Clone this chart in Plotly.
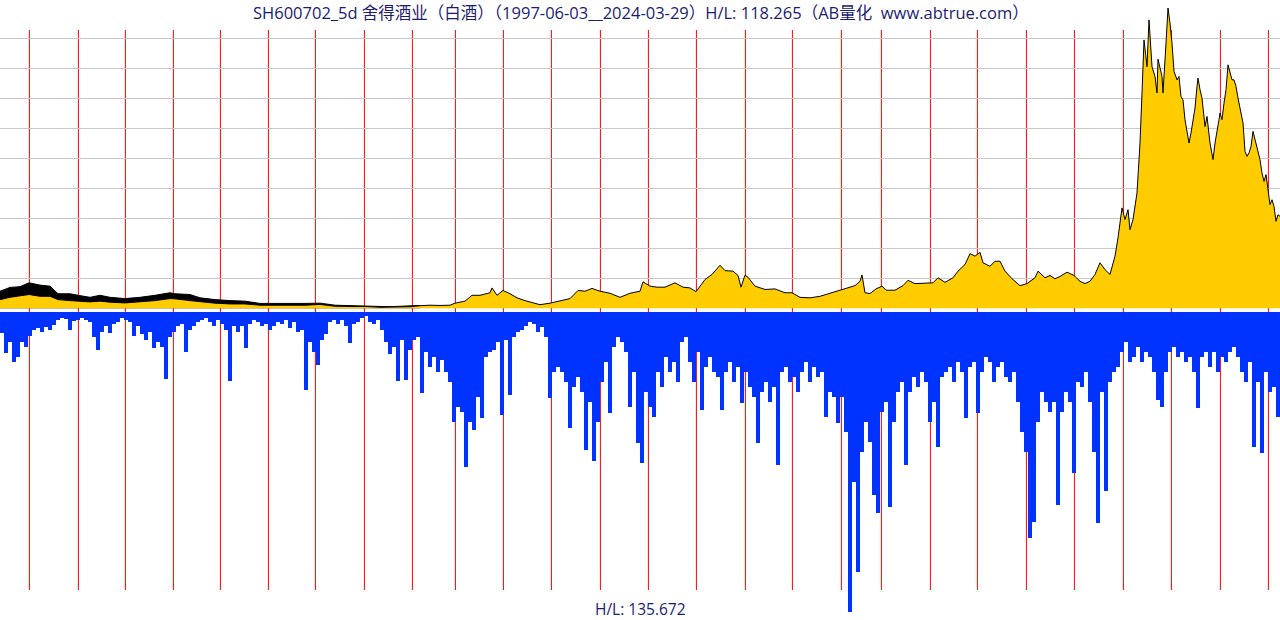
import plotly.graph_objects as go

# ---------------- data ----------------
TITLE = "SH600702_5d 舍得酒业（白酒）（1997-06-03__2024-03-29）H/L: 118.265（AB量化  www.abtrue.com）"
PRICE_HL = 118.265
VOL_LABEL = "H/L: 135.672"

# trading-day index of each year start (1998 ... 2024)
year_start_day = [147, 392, 627, 867, 1102, 1342, 1577, 1822, 2062, 2277, 2517, 2757, 3002,
                  3242, 3482, 3727, 3962, 4207, 4407, 4652, 4887, 5132, 5372, 5617, 5857,
                  6102, 6342]

# early high band (black)
band_day = [0, 50, 100, 145, 200, 250, 290, 350, 390, 450, 500, 550, 625, 700, 775, 850, 875,
            950, 1000, 1075, 1150, 1225, 1300, 1375, 1450, 1525, 1600, 1675, 1750, 1825, 1900,
            1975, 2050, 2100]
band_high = [6.8, 8.3, 8.6, 10.1, 9.2, 8.8, 5.8, 5.8, 5.2, 4.4, 5.2, 4.4, 3.9, 4.4, 5.2, 6.2, 5.8,
             5.5, 4.2, 3.5, 3.1, 2.9, 2.0, 2.1, 2.0, 2.0, 2.1, 1.3, 1.1, 1.1, 0.8, 0.8, 1.1, 1.2]

# close price (yellow area)
price_day = [0, 50, 145, 200, 250, 290, 350, 390, 450, 500, 550, 625, 700, 775, 850, 875, 950,
             1000, 1075, 1150, 1225, 1300, 1375, 1450, 1525, 1600, 1675, 1750, 1825, 1900, 1975,
             2050, 2100, 2150, 2200, 2250, 2275, 2325, 2360, 2400, 2450, 2460, 2485, 2515, 2550,
             2585, 2625, 2675, 2700, 2750, 2800, 2850, 2890, 2925, 2960, 3000, 3050, 3100, 3150,
             3200, 3215, 3250, 3285, 3325, 3375, 3415, 3450, 3480, 3525, 3560, 3600, 3625, 3665,
             3690, 3705, 3725, 3740, 3775, 3825, 3875, 3925, 3960, 4000, 4050, 4100, 4150, 4200,
             4240, 4275, 4300, 4310, 4325, 4350, 4380, 4410, 4430, 4475, 4515, 4540, 4575, 4625,
             4665, 4690, 4725, 4765, 4790, 4825, 4850, 4875, 4900, 4915, 4950, 4975, 5000, 5025,
             5060, 5100, 5135, 5175, 5190, 5225, 5250, 5275, 5300, 5335, 5370, 5400, 5425, 5450,
             5475, 5500, 5525, 5550, 5575, 5590, 5610, 5625, 5640, 5650, 5665, 5685, 5700, 5710,
             5715, 5720, 5735, 5745, 5760, 5775, 5785, 5790, 5810, 5815, 5830, 5840, 5850, 5860,
             5870, 5885, 5895, 5905, 5915, 5925, 5935, 5945, 5955, 5965, 5975, 5985, 5990, 6000,
             6010, 6025, 6035, 6050, 6060, 6065, 6075, 6085, 6095, 6100, 6110, 6120, 6130, 6140,
             6150, 6160, 6170, 6180, 6190, 6200, 6205, 6215, 6225, 6235, 6245, 6255, 6265, 6275,
             6285, 6300, 6310, 6320, 6330, 6340, 6350, 6360, 6370, 6380, 6390, 6400]
price = [3.5, 4.4, 5.5, 4.8, 4.8, 3.5, 3.1, 2.9, 2.6, 2.9, 2.5, 2.2, 2.6, 3.1, 3.9, 3.8, 3.1,
         2.6, 2.1, 1.8, 1.8, 1.3, 1.3, 1.3, 1.3, 1.6, 0.9, 0.8, 0.8, 0.5, 0.5,
         0.7, 1.1, 1.3, 1.2, 1.3, 2.1, 2.9, 5.2, 5.2, 6.2, 8.1, 5.2, 7.1, 5.8,
         4.2, 3.1, 2.2, 1.5, 2.1, 3.1, 3.9, 7.1, 6.8, 7.9, 6.8, 6.0, 4.4, 6.0,
         6.8, 10.5, 8.8, 8.4, 8.4, 10.1, 8.4, 8.1, 6.6, 11.4, 13.4, 17.0, 14.9, 14.7,
         13.0, 8.4, 13.1, 12.3, 8.8, 7.5, 7.7, 6.2, 6.2, 4.4, 4.2, 4.8, 6.0, 7.1,
         8.1, 9.0, 10.7, 13.2, 6.2, 5.9, 7.7, 8.8, 7.2, 7.2, 9.0, 11.1, 9.8, 10.1,
         10.1, 12.1, 10.3, 12.1, 14.7, 17.3, 21.6, 20.6, 22.1, 18.0, 16.6, 18.6, 18.6, 14.7,
         11.7, 9.0, 9.8, 12.1, 14.7, 12.1, 13.0, 11.7, 12.6, 14.3, 13.0, 10.7, 9.8, 10.7,
         13.4, 18.0, 15.3, 13.4, 20.6, 27.8, 39.6, 35.0, 38.9, 31.0, 35.0, 45.5, 65.1, 84.8,
         94.6, 105.7, 95.2, 113.6, 95.2, 91.3, 84.8, 98.1, 91.3, 84.8, 104.4, 118.265, 112.3, 104.4,
         93.3, 90.0, 91.3, 83.4, 82.1, 74.3, 69.7, 65.1, 69.1, 74.3, 78.9, 87.4, 90.7, 86.1,
         82.8, 71.6, 75.6, 65.1, 61.2, 58.6, 65.1, 69.1, 74.3, 76.9, 74.3, 80.8, 86.1, 95.9,
         93.3, 90.0, 90.0, 87.4, 82.8, 78.2, 76.2, 73.0, 61.8, 59.9, 61.2, 63.8, 69.7, 66.4,
         63.8, 58.6, 53.3, 50.0, 52.7, 46.8, 40.9, 42.8, 40.2, 34.3, 36.9, 36.3]

# weekly (20-day bin) lower-panel values, drawn downward
vol = [21, 41, 30, 50, 45, 30, 35, 24, 18, 16,
       20, 15, 18, 13, 8, 6, 7, 18, 9, 8,
       6, 8, 10, 25, 38, 20, 14, 21, 12, 10,
       6, 8, 10, 24, 14, 22, 28, 20, 36, 30,
       35, 67, 25, 20, 14, 12, 40, 18, 14, 10,
       8, 6, 10, 14, 8, 12, 18, 69, 14, 20,
       14, 36, 12, 8, 10, 14, 12, 18, 14, 10,
       12, 8, 16, 10, 20, 18, 78, 30, 40, 53,
       28, 22, 10, 8, 12, 8, 14, 31, 12, 10,
       6, 4, 10, 12, 8, 18, 30, 42, 35, 69,
       28, 68, 38, 28, 25, 81, 40, 55, 45, 60,
       48, 60, 70, 110, 95, 100, 155, 110, 118, 85,
       106, 45, 40, 38, 30, 103, 28, 83, 25, 20,
       18, 14, 10, 12, 20, 15, 25, 86, 60, 55,
       60, 70, 116, 75, 65, 80, 138, 90, 149, 110,
       70, 50, 101, 35, 25, 30, 40, 95, 60, 131,
       151, 80, 95, 105, 60, 75, 45, 60, 50, 70,
       30, 25, 50, 70, 40, 98, 55, 45, 60, 65,
       98, 60, 50, 70, 55, 91, 60, 75, 85, 131,
       80, 70, 90, 75, 153, 60, 55, 70, 65, 80,
       60, 50, 70, 55, 65, 60, 105, 80, 85, 111,
       85, 120, 300, 170, 260, 140, 110, 130, 183, 201,
       100, 90, 195, 110, 80, 70, 153, 80, 65, 75,
       60, 70, 110, 90, 135, 65, 60, 55, 70, 50,
       60, 106, 55, 50, 101, 60, 45, 50, 70, 55,
       50, 65, 70, 60, 90, 120, 140, 226, 210, 110,
       80, 90, 100, 90, 193, 100, 80, 90, 161, 70,
       75, 60, 90, 140, 211, 80, 179, 70, 60, 55,
       40, 30, 50, 45, 35, 50, 40, 45, 60, 88,
       95, 60, 40, 35, 45, 40, 50, 45, 60, 96,
       45, 40, 55, 40, 60, 45, 50, 40, 35, 45,
       60, 70, 50, 135, 70, 141, 60, 80, 75, 105]
BIN = 20
vol_day = [i * BIN + BIN / 2 for i in range(len(vol))]
TOTAL_DAYS = len(vol) * BIN

# ---------------- figure ----------------
W, H = 1280, 620
YELLOW = "#FFCC00"
BLUE = "#0033FF"
NAVY = "#1c1c72"
FONT = "Open Sans, Noto Sans CJK SC"

def py(p):  # pixel row -> paper fraction
    return 1 - p / H

fig = go.Figure()
fig.add_trace(go.Scatter(x=band_day, y=band_high, mode="lines", fill="tozeroy",
                         fillcolor="black", line=dict(color="black", width=1),
                         hoverinfo="skip"))
fig.add_trace(go.Scatter(x=price_day, y=price, mode="lines", fill="tozeroy",
                         fillcolor=YELLOW, line=dict(color="black", width=1),
                         hoverinfo="skip"))
fig.add_trace(go.Bar(x=vol_day, y=vol, width=BIN, yaxis="y2",
                     marker=dict(color=BLUE, line=dict(width=0)), hoverinfo="skip"))

shapes = [dict(type="line", xref="x", yref="paper", x0=d, x1=d, y0=py(590), y1=py(30),
               line=dict(color="#FF0000", width=1), layer="below")
          for d in year_start_day]

grid_vals = [PRICE_HL * k / 10 for k in range(1, 10)]

fig.update_layout(
    width=W, height=H, margin=dict(l=0, r=0, t=0, b=0),
    paper_bgcolor="white", plot_bgcolor="white", showlegend=False,
    bargap=0,
    xaxis=dict(range=[0, TOTAL_DAYS], domain=[0, 1], showgrid=False, zeroline=False,
               showticklabels=False, ticks="", showline=False),
    yaxis=dict(range=[0, PRICE_HL], domain=[py(308.5), py(8)], tickvals=grid_vals,
               showgrid=True, gridcolor="#C8C8C8", gridwidth=1, zeroline=False,
               showticklabels=False, ticks="", showline=False),
    yaxis2=dict(range=[max(vol), 0], domain=[py(612), py(312)], anchor="x",
                showgrid=False, zeroline=False, showticklabels=False, ticks="",
                showline=False),
    shapes=shapes,
    annotations=[
        dict(text=TITLE, x=0.5005, y=py(12), xref="paper", yref="paper", showarrow=False,
             xanchor="center", yanchor="middle",
             font=dict(family=FONT, size=16.5, color=NAVY)),
        dict(text=VOL_LABEL, x=0.5, y=py(609), xref="paper", yref="paper", showarrow=False,
             xanchor="center", yanchor="middle",
             font=dict(family=FONT, size=15.5, color=NAVY)),
    ],
)

fig.write_html("out.html")
